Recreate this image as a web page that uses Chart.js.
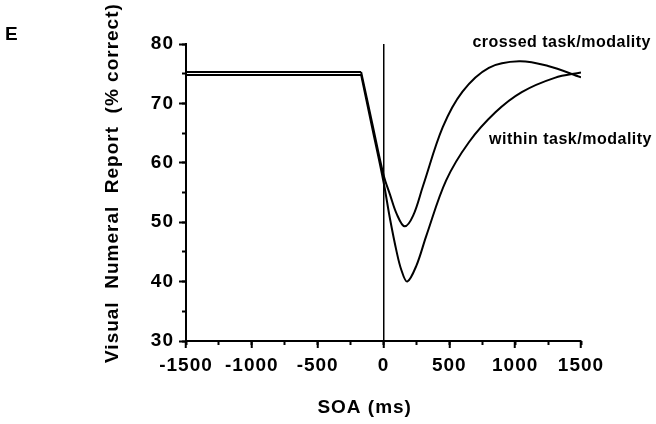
<!DOCTYPE html>
<html>
<head>
<meta charset="utf-8">
<script src="https://cdn.jsdelivr.net/npm/chart.js@4/dist/chart.umd.min.js"></script>
<style>
html,body{margin:0;padding:0;background:#fff;}
canvas{display:block;}
</style>
</head>
<body>
<canvas id="c" width="656" height="424"></canvas>
<script>
// ---- data ----
const crossedSOA = [-1500, -170, -85, 0, 50, 100, 160, 225, 300, 450, 600, 800, 1030, 1250, 1500];
const crossedPct = [75.3, 75.3, 66.6, 58.0, 54.6, 51.4, 49.3, 51.1, 56.1, 66.0, 72.0, 76.0, 77.1, 76.3, 74.4];
const withinSOA  = [-1500, -170, -85, 0, 50, 100, 135, 180, 250, 325, 475, 650, 850, 1050, 1300, 1500];
const withinPct  = [74.8, 74.8, 65.8, 56.8, 50.5, 45.0, 42.0, 40.0, 42.7, 47.7, 57.0, 63.5, 68.5, 71.9, 74.3, 75.2];
const plateauEnd = -170;   // SOA where the flat baseline ends and the curve begins
const xTicksMajor = [-1500, -1000, -500, 0, 500, 1000, 1500];
const yTicksMajor = [30, 40, 50, 60, 70, 80];
const seriesLabels = ['crossed task/modality', 'within task/modality'];
const panelLetter = 'E';
const xTitle = 'SOA (ms)';
const yTitle = 'Visual  Numeral  Report  (% correct)';

const FONT = '"Liberation Sans", Arial, Helvetica, sans-serif';
const NB = '\u00a0';
const toPts = (xs, ys) => xs.map((x, i) => ({x: x, y: ys[i]}));
const flatPart = (xs, ys) => toPts(xs, ys).filter(p => p.x <= plateauEnd);
const curvePart = (xs, ys) => toPts(xs, ys).filter(p => p.x >= plateauEnd);

const spacing = {
  id: 'spacing',
  beforeUpdate(chart) { chart.ctx.letterSpacing = '1px'; },
  beforeDraw(chart) { chart.ctx.letterSpacing = '1px'; }
};

const annot = {
  id: 'annot',
  afterDraw(chart) {
    const ctx = chart.ctx;
    ctx.save();
    ctx.fillStyle = '#000';
    ctx.letterSpacing = '0.5px';
    ctx.textBaseline = 'alphabetic';
    ctx.font = 'bold 16px ' + FONT;
    ctx.textAlign = 'right';
    ctx.fillText(seriesLabels[0], 651, 47);
    ctx.fillText(seriesLabels[1], 652, 144);
    ctx.textAlign = 'left';
    ctx.letterSpacing = '0px';
    ctx.font = 'bold 19px ' + FONT;
    ctx.fillText(panelLetter, 5, 40);
    ctx.restore();
  }
};

const tickFont = {family: FONT, size: 19, weight: 'bold'};
const titleFont = {family: FONT, size: 19, weight: 'bold'};
const line = {borderColor: '#000', borderWidth: 2, pointRadius: 0, fill: false};

new Chart(document.getElementById('c'), {
  type: 'line',
  data: {
    datasets: [
      Object.assign({label: seriesLabels[0], data: flatPart(crossedSOA, crossedPct), tension: 0}, line),
      Object.assign({label: seriesLabels[0], data: curvePart(crossedSOA, crossedPct), tension: 0.35}, line),
      Object.assign({label: seriesLabels[1], data: flatPart(withinSOA, withinPct), tension: 0}, line),
      Object.assign({label: seriesLabels[1], data: curvePart(withinSOA, withinPct), tension: 0.35}, line)
    ]
  },
  options: {
    responsive: false,
    animation: false,
    devicePixelRatio: 1,
    layout: {padding: {left: 100, right: 75, top: 44, bottom: 0}},
    plugins: {legend: {display: false}, tooltip: {enabled: false}},
    scales: {
      x: {
        type: 'linear', position: 'bottom', min: -1500, max: 1500, weight: 1,
        afterBuildTicks: s => { s.ticks = xTicksMajor.map(v => ({value: v})); },
        ticks: {font: tickFont, color: '#000', padding: 6, maxRotation: 0, autoSkip: false, callback: v => String(v)},
        grid: {
          drawOnChartArea: true,
          color: c => (c.tick && c.tick.value === 0) ? '#000' : 'rgba(0,0,0,0)',
          lineWidth: 1.5, tickColor: '#000', tickLength: 7, tickWidth: 2
        },
        border: {display: true, color: '#000', width: 2},
        title: {display: true, text: xTitle + NB.repeat(6), font: titleFont, color: '#000', padding: {top: 0, bottom: 5}},
        afterFit: s => { s.height = 83; }
      },
      x2: {
        type: 'linear', position: 'bottom', min: -1500, max: 1500, weight: 0,
        ticks: {display: false, stepSize: 250},
        grid: {drawOnChartArea: false, tickColor: '#000', tickLength: 4, tickWidth: 2},
        border: {display: false},
        afterFit: s => { s.height = 0; }
      },
      y: {
        type: 'linear', position: 'left', min: 30, max: 80, weight: 1,
        afterBuildTicks: s => { s.ticks = yTicksMajor.map(v => ({value: v})); },
        ticks: {font: tickFont, color: '#000', padding: 5, callback: v => String(v)},
        grid: {drawOnChartArea: false, tickColor: '#000', tickLength: 7, tickWidth: 2},
        border: {display: true, color: '#000', width: 2},
        title: {display: true, text: NB.repeat(3) + yTitle, font: titleFont, color: '#000', padding: {top: 1, bottom: 0}},
        afterFit: s => { s.width = 86; }
      },
      y2: {
        type: 'linear', position: 'left', min: 30, max: 80, weight: 0,
        ticks: {display: false, stepSize: 5},
        grid: {drawOnChartArea: false, tickColor: '#000', tickLength: 4, tickWidth: 2},
        border: {display: false},
        afterFit: s => { s.width = 0; }
      }
    }
  },
  plugins: [spacing, annot]
});
</script>
</body>
</html>
